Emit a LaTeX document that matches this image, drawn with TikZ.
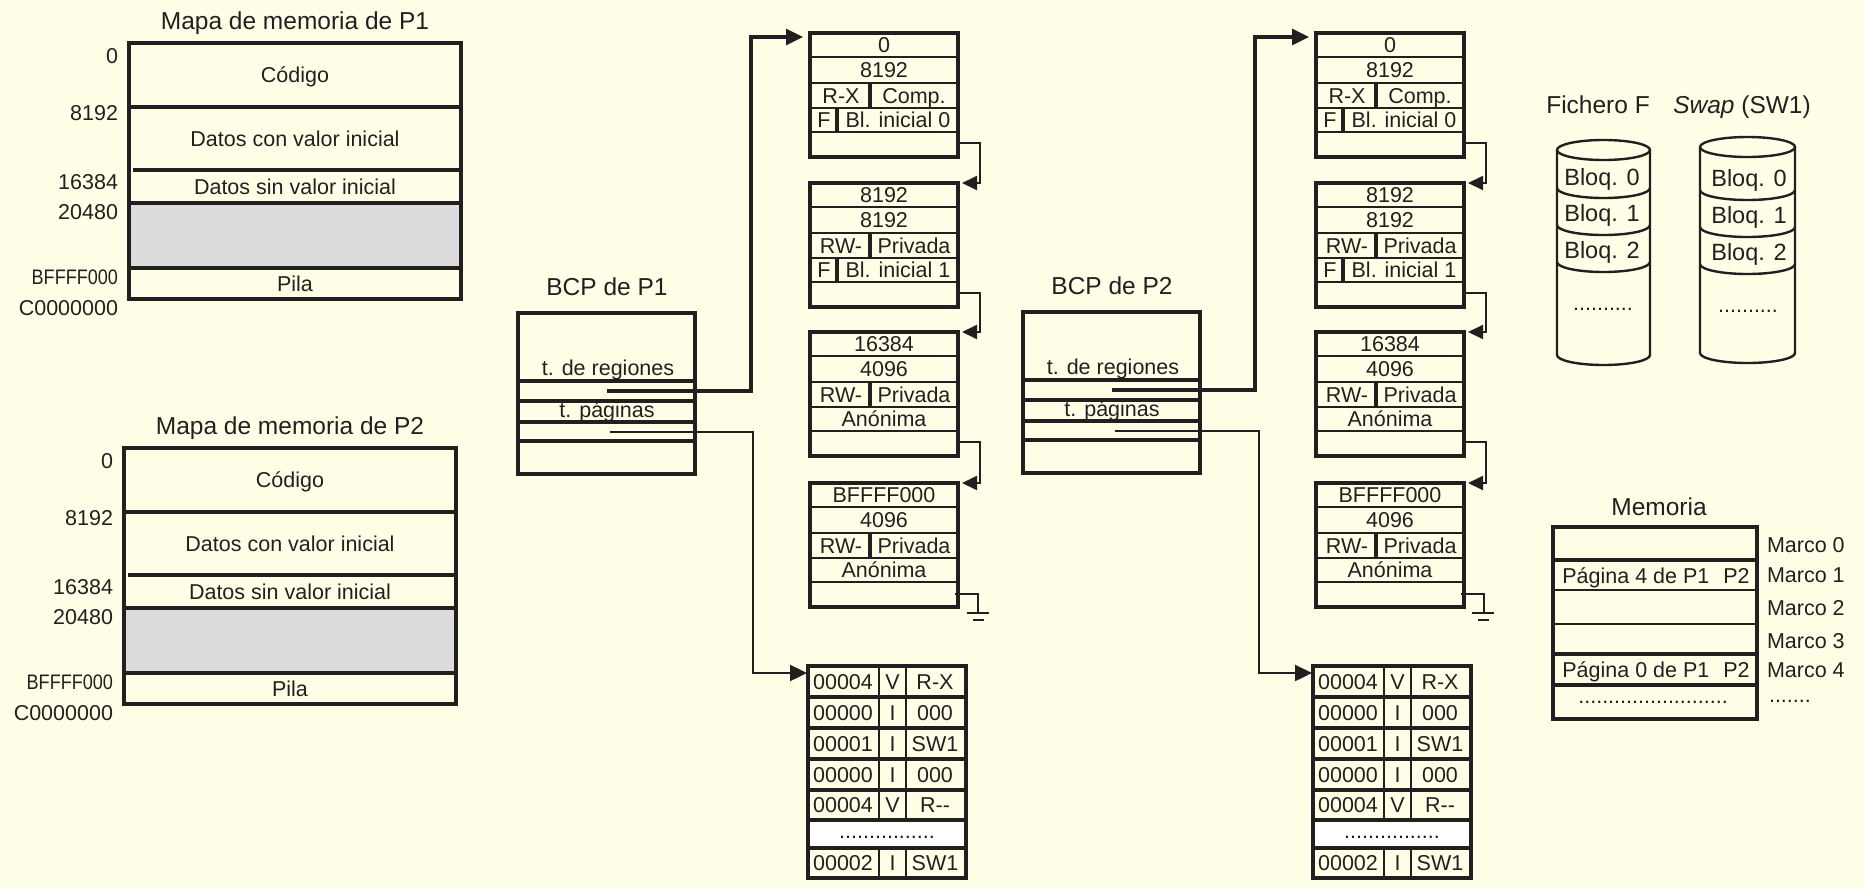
\documentclass[tikz,border=0pt]{standalone}
\usepackage{fontspec}
\setmainfont{Liberation Sans}
\newfontfamily\narrowfont{Liberation Sans}[FakeStretch=0.86]
\usetikzlibrary{arrows.meta}
\definecolor{bgc}{HTML}{FFFFE8}
\definecolor{ink}{HTML}{231F20}
\definecolor{hole}{HTML}{DCDCDC}

\newcommand{\MemMap}[3]{%
\begin{scope}[shift={(#1,#2)}]
  \fill[hole] (0,160) rectangle (332,225);
  \node[ttl] (map#3-t) at (166,-22) {Mapa de memoria de P#3};
  \node[txt] (map#3-cod) at (166,32) {Código};
  \node[txt] (map#3-dci) at (166,95.5) {Datos con valor inicial};
  \node[txt] (map#3-dsi) at (166,143.5) {Datos sin valor inicial};
  \node[txt] (map#3-pila) at (166,240.5) {Pila};
  \draw[thk] (0,64) -- (332,64) (4,127) -- (334,127) (0,160) -- (332,160) (0,225) -- (332,225);
  \draw[thk] (0,0) rectangle (332,256);
  \node[txt,anchor=east] (map#3-l0) at (-11,13) {0};
  \node[txt,anchor=east] (map#3-l1) at (-11,70) {8192};
  \node[txt,anchor=east] (map#3-l2) at (-11,139) {16384};
  \node[txt,anchor=east] (map#3-l3) at (-11,169) {20480};
  \node[nrw,anchor=east] (map#3-l4) at (-11,234) {BFFFF000};
  \node[txt,anchor=east] (map#3-l5) at (-11,265) {C0000000};
\end{scope}}

\newcommand{\BCP}[3]{%
\begin{scope}[shift={(#1,#2)}]
  \node[ttl] (bcp#3-t) at (89,-26) {BCP de P#3};
  \node[txt] (bcp#3-reg) at (90,55) {t. de regiones};
  \node[txt] (bcp#3-pag) at (89,96.5) {t. páginas};
  \draw[thk] (0,68) -- (177,68) (0,88) -- (177,88) (0,109) -- (177,109) (0,128) -- (177,128);
  \draw[thk] (0,0) rectangle (177,161);
  \coordinate (bcp#3-rp) at (89,78);
  \coordinate (bcp#3-pp) at (92,119);
\end{scope}}

\newcommand{\RegTab}[7]{%
\begin{scope}[shift={(#1,#2)}]
  \draw[mid] (0,24) -- (148,24) (0,50) -- (148,50) (0,75) -- (148,75) (0,99) -- (148,99);
  \draw[thk] (60,50) -- (60,75);
  \draw[thk] (0,0) rectangle (148,124);
  \node[txt] (#3-a) at (74,12) {#4};
  \node[txt] (#3-b) at (74,37) {#5};
  \node[txt] (#3-c) at (31,62.5) {#6};
  \node[txt] (#3-d) at (104,62.5) {#7};
  \coordinate (#3-in) at (-7,4);
  \coordinate (#3-top) at (152,0);
  \coordinate (#3-out) at (148,110);
  \coordinate (#3-gnd) at (145,111);
\end{scope}}

\newcommand{\RegFile}[4]{%
\begin{scope}[shift={(#1,#2)}]
  \draw[thk] (27,75) -- (27,99);
  \node[txt] (#3-e) at (14,87) {F};
  \node[txt] (#3-f) at (88,87) {#4};
\end{scope}}

\newcommand{\RegAnon}[3]{%
\begin{scope}[shift={(#1,#2)}]
  \node[txt] (#3-e) at (74,87) {Anónima};
\end{scope}}

\newcommand{\PageTab}[3]{%
\begin{scope}[shift={(#1,#2)}]
  \fill[white] (0,154) rectangle (158,182);
  \foreach \yy in {31,62,93,124,154,182} \draw[thk] (0,\yy) -- (158,\yy);
  \foreach \ya/\yb in {0/154,182/212} \draw[mid] (71,\ya) -- (71,\yb) (98,\ya) -- (98,\yb);
  \draw[thk] (0,0) rectangle (158,212);
  \foreach \i/\yc/\a/\b/\c in {1/15.5/00004/V/R-X,2/46.5/00000/I/000,3/77.5/00001/I/SW1,4/108.5/00000/I/000,5/139/00004/V/R-{}-,7/197/00002/I/SW1}{
    \node[txt] (#3-a\i) at (35,\yc) {\a};
    \node[txt] (#3-b\i) at (84.5,\yc) {\b};
    \node[txt] (#3-c\i) at (127,\yc) {\c};
  }
  \node[txt] (#3-dots) at (79,165) {................};
  \coordinate (#3-in) at (-1,7);
\end{scope}}

\begin{document}
\begin{tikzpicture}[x=1pt,y=-1pt,
  txt/.style={inner sep=0pt,outer sep=0pt,text=ink,font=\fontsize{21.5}{24}\selectfont,text height=15.4pt,text depth=0pt},
  nrw/.style={txt,font=\narrowfont\fontsize{21}{24}\selectfont,text height=15pt},
  big/.style={txt,font=\fontsize{23.5}{27}\selectfont,text height=16.8pt},
  ttl/.style={txt,font=\fontsize{24.5}{28}\selectfont,text height=17.5pt},
  thk/.style={draw=ink,line width=3.5pt},
  mid/.style={draw=ink,line width=2.6pt},
  tln/.style={draw=ink,line width=1.8pt},
  ptr/.style={draw=ink,line width=3.2pt,-{Triangle[length=17pt,width=16pt]}},
  pgp/.style={draw=ink,line width=2.4pt,-{Triangle[length=17pt,width=16pt]}},
  nxt/.style={draw=ink,line width=2pt,-{Triangle[length=15pt,width=14pt]}},
  gnd/.style={draw=ink,line width=2pt},
  cyl/.style={draw=ink,line width=2.4pt},
]
\useasboundingbox (0,0) rectangle (1865,889);
\fill[bgc] (0,0) rectangle (1865,889);

% memory maps
\MemMap{129}{43}{1}
\MemMap{124}{448}{2}

% BCPs
\BCP{518}{313}{1}
\BCP{1023}{312}{2}

% region tables P1
\RegTab{810}{33}{ra1}{0}{8192}{R-X}{Comp.}
\RegFile{810}{33}{ra1}{Bl. inicial 0}
\RegTab{810}{183}{ra2}{8192}{8192}{RW-}{Privada}
\RegFile{810}{183}{ra2}{Bl. inicial 1}
\RegTab{810}{332}{ra3}{16384}{4096}{RW-}{Privada}
\RegAnon{810}{332}{ra3}
\RegTab{810}{483}{ra4}{BFFFF000}{4096}{RW-}{Privada}
\RegAnon{810}{483}{ra4}

% region tables P2
\RegTab{1316}{33}{rb1}{0}{8192}{R-X}{Comp.}
\RegFile{1316}{33}{rb1}{Bl. inicial 0}
\RegTab{1316}{183}{rb2}{8192}{8192}{RW-}{Privada}
\RegFile{1316}{183}{rb2}{Bl. inicial 1}
\RegTab{1316}{332}{rb3}{16384}{4096}{RW-}{Privada}
\RegAnon{1316}{332}{rb3}
\RegTab{1316}{483}{rb4}{BFFFF000}{4096}{RW-}{Privada}
\RegAnon{1316}{483}{rb4}

% page tables
\PageTab{808}{666}{pa}
\PageTab{1313}{666}{pb}

% links between region tables
\foreach \p in {a,b}{
  \draw[nxt] (r\p1-out) -- ++(22,0) |- (r\p2-top);
  \draw[nxt] (r\p2-out) -- ++(22,0) |- (r\p3-top);
  \draw[nxt] (r\p3-out) -- ++(22,0) |- (r\p4-top);
  \draw[gnd] (r\p4-gnd) -- ++(23,0) -- ++(0,19);
}
\draw[gnd] (967,613) -- (989,613);
\draw[gnd] (973,620) -- (984,620);
\draw[gnd] (1472,613) -- (1494,613);
\draw[gnd] (1478,620) -- (1489,620);

% pointers from BCPs
\draw[ptr] (bcp1-rp) -- ++(144,0) |- (ra1-in);
\draw[pgp] (bcp1-pp) -- ++(143,0) |- (pa-in);
\draw[ptr] (bcp2-rp) -- ++(143,0) |- (rb1-in);
\draw[pgp] (bcp2-pp) -- ++(144,0) |- (pb-in);

% files
\node[ttl] (fich) at (1598,105) {Fichero F};
\node[ttl] (swap) at (1742,105) {\textit{Swap} (SW1)};
\draw[cyl] (1557,150) -- (1557,355) arc[start angle=180,end angle=360,x radius=46.5pt,y radius=10pt] -- (1650,150);
\draw[cyl] (1603.5,150) ellipse[x radius=46.5pt,y radius=10pt];
\foreach \yy in {188,225,262} \draw[cyl] (1557,\yy) arc[start angle=180,end angle=360,x radius=46.5pt,y radius=10pt];
\node[big] (f0) at (1602,177) {Bloq. 0};
\node[big] (f1) at (1602,213) {Bloq. 1};
\node[big] (f2) at (1602,250) {Bloq. 2};
\node[txt] (fd) at (1603,303) {..........};
\draw[cyl] (1700,147) -- (1700,353) arc[start angle=180,end angle=360,x radius=47.5pt,y radius=10pt] -- (1795,147);
\draw[cyl] (1747.5,147) ellipse[x radius=47.5pt,y radius=10pt];
\foreach \yy in {190,227,264} \draw[cyl] (1700,\yy) arc[start angle=180,end angle=360,x radius=47.5pt,y radius=10pt];
\node[big] (s0) at (1749,178) {Bloq. 0};
\node[big] (s1) at (1749,215) {Bloq. 1};
\node[big] (s2) at (1749,252) {Bloq. 2};
\node[txt] (sd) at (1748,305) {..........};

% memory
\node[ttl] (mem-t) at (1659,507) {Memoria};
\draw[thk] (1553,560) -- (1757,560) (1553,654) -- (1757,654) (1553,685) -- (1757,685);
\draw[tln] (1553,590) -- (1757,590) (1553,624) -- (1757,624);
\draw[thk] (1553,527) rectangle (1757,719);
\node[txt] (mem-p4) at (1656,576) {Página 4 de P1\hspace{0.65em}P2};
\node[txt] (mem-p0) at (1656,670) {Página 0 de P1\hspace{0.65em}P2};
\node[txt] (mem-d) at (1653,696) {.........................};
\foreach \i/\yc in {0/545,1/575,2/608,3/641,4/670}
  \node[txt,anchor=west] (marco\i) at (1767,\yc) {Marco \i};
\node[txt,anchor=west] (marcod) at (1769,695) {.......};
\end{tikzpicture}
\end{document}
